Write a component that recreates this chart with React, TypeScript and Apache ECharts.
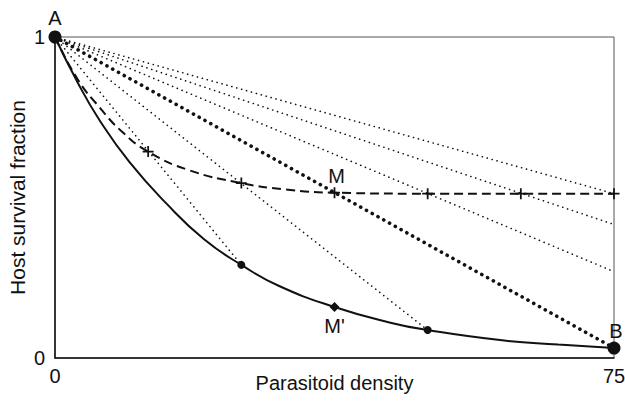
import React, { useEffect, useRef } from "react";
import * as echarts from "echarts";

const solidX = [0, 3, 6, 10, 15, 20, 25, 30, 37.5, 45, 50, 60, 67.5, 75];
const solidY = [1, 0.86, 0.74, 0.61, 0.48, 0.37, 0.29, 0.225, 0.159, 0.11, 0.087, 0.055, 0.042, 0.031];

const dashedX = [0, 3, 6, 9, 12.5, 18, 25, 31, 37.5, 50, 62.5, 75];
const dashedY = [1, 0.87, 0.78, 0.705, 0.643, 0.585, 0.545, 0.525, 0.515, 0.512, 0.512, 0.512];

const plusX = [12.5, 25, 37.5, 50, 62.5, 75];
const plusY = [0.643, 0.545, 0.515, 0.512, 0.512, 0.512];

// dotted chords from A (0,1) to these end points
const chordEndX = [25, 50, 75, 75, 75];
const chordEndY = [0.29, 0.087, 0.269, 0.416, 0.512];
const thickChordEnd = [75, 0.031];

const dotX = [25, 50];
const dotY = [0.29, 0.087];
const diamond = [37.5, 0.159];
const pointA = [0, 1];
const pointB = [75, 0.031];

const xTicks = [0, 75];
const yTicks = [0, 1];

const FONT = "Liberation Sans";
const INK = "#111111";

export default function App() {
  const ref = useRef<HTMLDivElement>(null);
  useEffect(() => {
    if (!ref.current) return;
    const chart = echarts.init(ref.current, undefined, { renderer: "svg" });
    const lbl = { fontFamily: FONT, fontSize: 20, color: INK, textBorderWidth: 0 };
    const solidItem = { color: INK, opacity: 1 };
    const series: any[] = [];
    chordEndX.forEach((x, i) => {
      series.push({
        type: "line",
        data: [pointA, [x, chordEndY[i]]],
        symbol: "none",
        lineStyle: { color: INK, width: 1.6, type: [0.1, 5], cap: "round" },
        z: 2,
      });
    });
    series.push({
      type: "line",
      data: [pointA, thickChordEnd],
      symbol: "none",
      lineStyle: { color: INK, width: 3.6, type: [0.1, 6.5], cap: "round" },
      z: 2,
    });
    series.push({
      type: "line",
      data: dashedX.map((x, i) => [x, dashedY[i]]),
      smooth: true,
      symbol: "none",
      lineStyle: { color: INK, width: 2, type: [9, 5] },
      z: 3,
    });
    series.push({
      type: "line",
      data: solidX.map((x, i) => [x, solidY[i]]),
      smooth: true,
      symbol: "none",
      lineStyle: { color: INK, width: 2 },
      z: 3,
    });
    series.push({
      type: "scatter",
      data: plusX.map((x, i) => ({
        value: [x, plusY[i]],
        label:
          x === 37.5
            ? { show: true, formatter: "M", position: "top", distance: 1, offset: [2, 0], ...lbl }
            : { show: false },
      })),
      symbol: "path://M4.2,0h1.6v4.2h4.2v1.6h-4.2v4.2h-1.6v-4.2h-4.2v-1.6h4.2z",
      symbolSize: 11,
      itemStyle: solidItem,
      z: 5,
    });
    series.push({
      type: "scatter",
      data: dotX.map((x, i) => [x, dotY[i]]),
      symbol: "circle",
      symbolSize: 8,
      itemStyle: solidItem,
      z: 5,
    });
    series.push({
      type: "scatter",
      data: [
        {
          value: diamond,
          label: { show: true, formatter: "M'", position: "bottom", distance: 4, ...lbl },
        },
      ],
      symbol: "diamond",
      symbolSize: 10,
      itemStyle: solidItem,
      z: 5,
    });
    series.push({
      type: "scatter",
      data: [
        {
          value: pointA,
          label: { show: true, formatter: "A", position: "top", distance: 3, ...lbl },
        },
        {
          value: pointB,
          label: { show: true, formatter: "B", position: "top", distance: 1, offset: [2, 0], ...lbl },
        },
      ],
      symbol: "circle",
      symbolSize: 13,
      itemStyle: solidItem,
      clip: false,
      z: 6,
    });

    chart.setOption({
      animation: false,
      backgroundColor: "#ffffff",
      grid: {
        left: 55,
        right: 11,
        top: 37,
        bottom: 49,
        containLabel: false,
        outerBoundsMode: "none",
        show: true,
        borderColor: "#555",
        borderWidth: 1,
        backgroundColor: "transparent",
      },
      xAxis: {
        type: "value",
        min: xTicks[0],
        max: xTicks[1],
        interval: 75,
        name: "Parasitoid density",
        nameLocation: "middle",
        nameGap: 15,
        nameMoveOverlap: false,
        nameTextStyle: { fontFamily: FONT, fontSize: 20, color: INK, verticalAlign: "top" },
        axisLine: { show: true, lineStyle: { color: INK, width: 1.5 } },
        axisTick: { show: false },
        splitLine: { show: false },
        axisLabel: { fontFamily: FONT, fontSize: 20, color: INK, margin: 8 },
      },
      yAxis: {
        type: "value",
        min: yTicks[0],
        max: yTicks[1],
        interval: 1,
        name: "Host survival fraction",
        nameLocation: "middle",
        nameGap: 27,
        nameMoveOverlap: false,
        nameTextStyle: { fontFamily: FONT, fontSize: 21, color: INK },
        axisLine: { show: true, lineStyle: { color: INK, width: 1.5 } },
        axisTick: { show: false },
        splitLine: { show: false },
        axisLabel: { fontFamily: FONT, fontSize: 20, color: INK, margin: 10 },
      },
      series,
    });
    return () => chart.dispose();
  }, []);
  return (
    <div
      ref={ref}
      style={{ position: "absolute", left: 0, top: 0, width: 625, height: 407, background: "#fff" }}
    />
  );
}
